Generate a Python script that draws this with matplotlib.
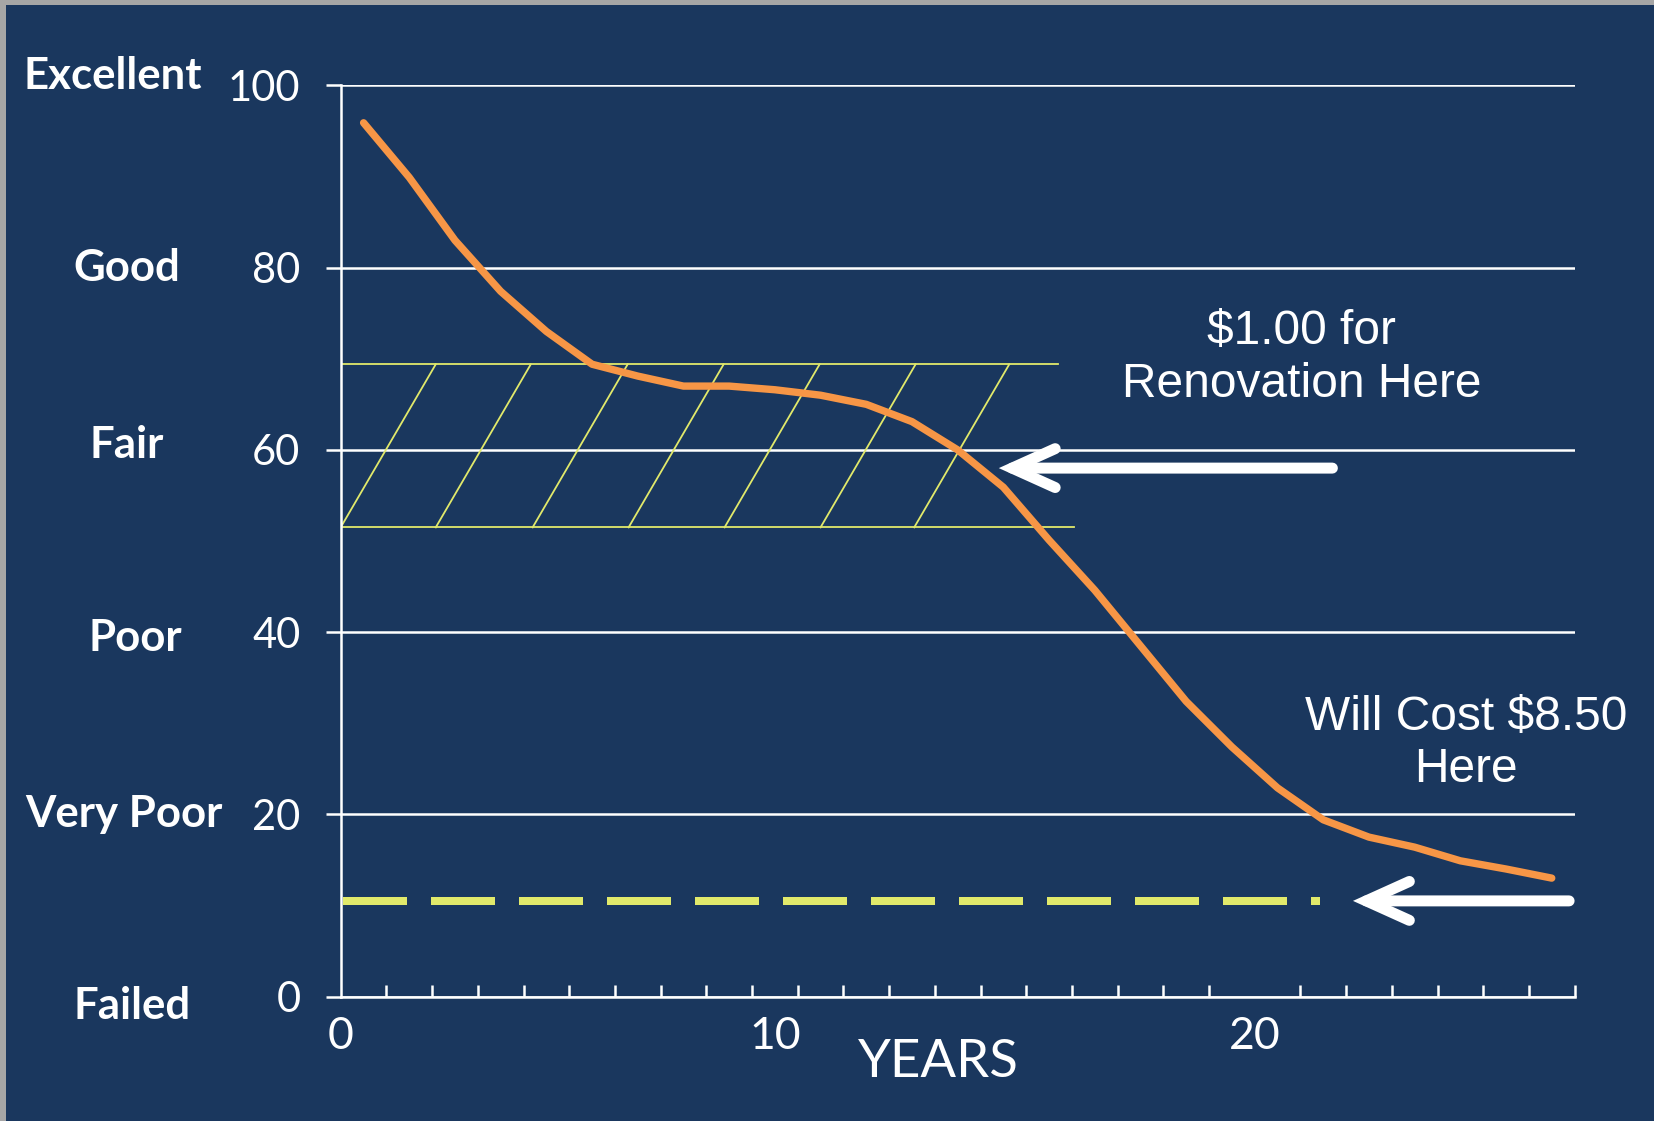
import numpy as np
import matplotlib
matplotlib.use("Agg")
import matplotlib.pyplot as plt
from matplotlib.patches import FancyArrowPatch, Rectangle
from matplotlib.transforms import blended_transform_factory

# ================================================================================
# data
condition = [95.9, 89.9, 83.0, 77.4, 73.0, 69.4, 68.1, 67.0, 67.0, 66.6,
             66.0, 65.0, 63.1, 60.0, 55.9, 50.1, 44.6, 38.5, 32.4, 27.4,
             22.9, 19.4, 17.5, 16.4, 14.9, 14.0, 13.0]
n_years = 27
year_labels = ["0", "10", "20"]
year_label_pos = [0, 9.5, 20]
grade_names = ["Excellent", "Good", "Fair", "Poor", "Very Poor", "Failed"]
grade_levels = [100, 80, 60, 40, 20, 0]

# renovation window (hatched band) and failure line
band_low, band_high = 51.5, 69.4
band_end_low, band_end_high = 16.05, 15.7
hatch_starts = [0, 2.08, 4.2, 6.3, 8.4, 10.5, 12.55]
hatch_step = 2.08
fail_level = 10.5
fail_end = 21.42

# arrows: (tail x, tip x, y)
arrow_reno = (21.7, 14.4, 58.0)
arrow_fail = (26.88, 22.15, 10.5)

# ================================================================================
navy = "#1a375e"
orange = "#f79646"
yellow = "#e1e96b"
plt.rcParams["font.family"] = ["Lato", "DejaVu Sans"]

fig = plt.figure(figsize=(16.54, 11.21), dpi=100, facecolor=navy)
ax = fig.add_axes([0.206, 0.111, 0.746, 0.8128])
ax.set_facecolor(navy)

# gray frame at top/left edge
fig.patches.append(Rectangle((0, 1 - 5 / 1121), 1, 5 / 1121, transform=fig.transFigure,
                             facecolor="#a6a6a6", edgecolor="none"))
fig.patches.append(Rectangle((0, 0), 6 / 1654, 1, transform=fig.transFigure,
                             facecolor="#a6a6a6", edgecolor="none"))

ax.set_xlim(0, n_years)
ax.set_ylim(0, 100)

# grid + axes
ax.set_yticks(grade_levels)
ax.set_yticklabels([str(v) for v in grade_levels])
ax.yaxis.grid(True, color="white", lw=1.8)
ax.set_axisbelow(True)
ax.tick_params(axis="y", direction="out", length=11, width=1.8, color="white",
               labelcolor="white", labelsize=30, pad=18)
for side in ["top", "right"]:
    ax.spines[side].set_visible(False)
for side in ["left", "bottom"]:
    ax.spines[side].set_color("white")
    ax.spines[side].set_linewidth(1.8)

ax.set_xticks(range(n_years + 1), minor=True)
ax.set_xticks(year_label_pos)
ax.set_xticklabels(year_labels)
ax.tick_params(axis="x", which="minor", direction="in", length=9, width=1.8, color="white")
ax.tick_params(axis="x", which="major", length=0, labelcolor="white", labelsize=32, pad=14)

# ================================================================================
# hatched band
ax.plot([0, band_end_high], [band_high, band_high], color=yellow, lw=1.3, zorder=2)
ax.plot([0, band_end_low], [band_low, band_low], color=yellow, lw=1.3, zorder=2)
for hx in hatch_starts:
    ax.plot([hx, hx + hatch_step], [band_low, band_high], color=yellow, lw=1.3, zorder=2)

# failure threshold
ax.plot([0.05, fail_end], [fail_level, fail_level], color=yellow, lw=5.76,
        dashes=(8, 3), dash_capstyle="butt", zorder=3)

# condition curve
x_vals = np.arange(len(condition)) + 0.5
ax.plot(x_vals, condition, color=orange, lw=5.3, solid_capstyle="round",
        solid_joinstyle="round", zorder=4, clip_on=False)

# arrows
for tail_x, tip_x, yy in [arrow_reno, arrow_fail]:
    arr = FancyArrowPatch((tail_x, yy), (tip_x, yy),
                          arrowstyle="->,head_length=31,head_width=14",
                          mutation_scale=1, lw=7.9, color="white",
                          shrinkA=0, shrinkB=0, capstyle="round",
                          joinstyle="miter", zorder=5, clip_on=False)
    ax.add_patch(arr)

# ================================================================================
# texts
ax.text(21.02, 70.1, "$1.00 for\nRenovation Here", ha="center", va="center",
        color="white", fontsize=34.5, family=["Liberation Sans", "DejaVu Sans"],
        linespacing=1.21)
ax.text(24.62, 27.75, "Will Cost $8.50\nHere", ha="center", va="center",
        color="white", fontsize=34.5, family=["Liberation Sans", "DejaVu Sans"],
        linespacing=1.21)

name_x = [0.068, 0.0765, 0.0765, 0.082, 0.075, 0.080]
name_dy = [1.0, 0.0, 0.5, -0.6, 0.0, -1.0]
trans = blended_transform_factory(fig.transFigure, ax.transData)
for nm, lv, nx, dy in zip(grade_names, grade_levels, name_x, name_dy):
    ax.text(nx, lv + dy, nm, transform=trans, ha="center", va="center",
            color="white", fontsize=31.5, fontweight="bold", clip_on=False)

fig.text(0.5676, 1 - 1008 / 1063, "YEARS", ha="center", va="center",
         color="white", fontsize=38)

fig.savefig("out.png", dpi=100, facecolor=navy)
